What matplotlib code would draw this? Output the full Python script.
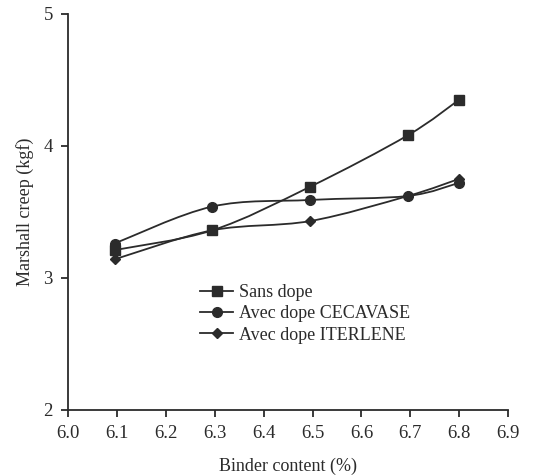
import matplotlib
matplotlib.use("Agg")
import matplotlib.pyplot as plt
from matplotlib.path import Path
from matplotlib.patches import PathPatch
import numpy as np

# binder content (%) and Marshall creep (kgf)
binder = [6.095, 6.295, 6.495, 6.695, 6.8]
sans_dope = [3.21, 3.36, 3.69, 4.08, 4.35]
cecavase = [3.26, 3.54, 3.59, 3.62, 3.72]
iterlene = [3.14, 3.36, 3.43, 3.62, 3.75]

labels = ["Sans dope", "Avec dope CECAVASE", "Avec dope ITERLENE"]
markers = ["s", "o", "D"]
msizes = [7, 7, 5]

plt.rcParams["font.family"] = ["Liberation Serif", "DejaVu Serif"]
col = "#2b2b2b"


def smooth_path(x, y):
    # Excel-like smoothed line: cubic Bezier segments (Catmull-Rom tangents)
    x = np.asarray(x, float)
    y = np.asarray(y, float)
    verts = [(x[0], y[0])]
    codes = [Path.MOVETO]
    n = len(x)
    for i in range(n - 1):
        x0, y0 = (x[i - 1], y[i - 1]) if i > 0 else (x[i], y[i])
        x3, y3 = (x[i + 2], y[i + 2]) if i + 2 < n else (x[i + 1], y[i + 1])
        c1 = (x[i] + (x[i + 1] - x0) / 6, y[i] + (y[i + 1] - y0) / 6)
        c2 = (x[i + 1] - (x3 - x[i]) / 6, y[i + 1] - (y3 - y[i]) / 6)
        verts += [c1, c2, (x[i + 1], y[i + 1])]
        codes += [Path.CURVE4] * 3
    return Path(verts, codes)


fig = plt.figure(figsize=(5.36, 4.76), dpi=100)
ax = fig.add_axes([0.127, 0.139, 0.821, 0.832])

for ys, lab, m, ms in zip([sans_dope, cecavase, iterlene], labels, markers, msizes):
    ax.add_patch(PathPatch(smooth_path(binder, ys), fill=False, edgecolor=col, lw=1.3))
    ax.plot(binder, ys, linestyle="none", marker=m, ms=ms, color=col)
    # legend proxy
    ax.plot([], [], color=col, lw=1.3, marker=m, ms=ms, label=lab)

ax.set_xlim(6.0, 6.9)
ax.set_ylim(2, 5)
ax.set_xticks(np.arange(6.0, 6.91, 0.1))
ax.set_xticklabels([f"{v:.1f}" for v in np.arange(6.0, 6.91, 0.1)])
ax.set_yticks([2, 3, 4, 5])

for s in ["top", "right"]:
    ax.spines[s].set_visible(False)
for s in ["left", "bottom"]:
    ax.spines[s].set_color(col)
    ax.spines[s].set_linewidth(1.3)
ax.tick_params(direction="out", length=5, width=1.3, color=col, labelcolor=col,
               labelsize=13.5, pad=6)

ax.set_xlabel("Binder content (%)", fontsize=13, color=col, labelpad=11)
ax.set_ylabel("Marshall creep (kgf)", fontsize=13, color=col, labelpad=7)

ax.legend(loc="upper left", bbox_to_anchor=(0.30, 0.317), frameon=False, fontsize=13,
          handlelength=1.85, handletextpad=0.3, labelspacing=0.23, borderpad=0,
          borderaxespad=0, labelcolor=col)

fig.savefig("out.png", dpi=100)
